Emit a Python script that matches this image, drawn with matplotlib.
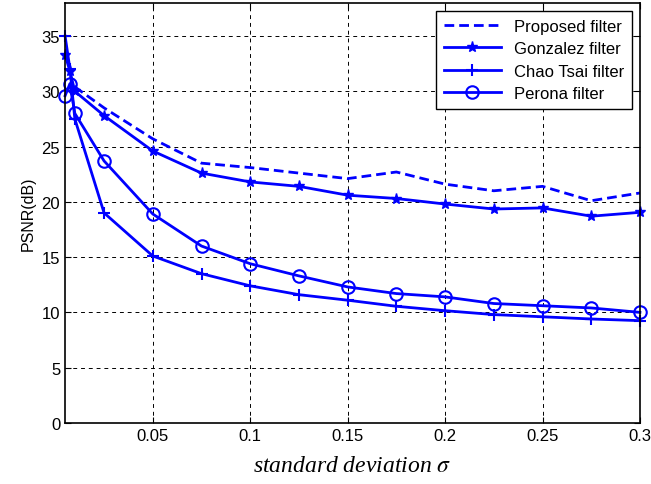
import numpy as np
import matplotlib.pyplot as plt

# 数据
sigma = [0.005, 0.0075, 0.01, 0.025, 0.05, 0.075, 0.1, 0.125, 0.15,
         0.175, 0.2, 0.225, 0.25, 0.275, 0.3]
proposed = [None, None, 30.4, 28.5, 25.7, 23.5, 23.1, 22.6, 22.1,
            22.7, 21.6, 21.0, 21.4, 20.1, 20.8]
gonzalez = [33.3, 31.8, 30.0, 27.8, 24.6, 22.6, 21.8, 21.4, 20.6,
            20.3, 19.8, 19.35, 19.45, 18.7, 19.05]
chao_tsai = [35.0, 32.0, 27.5, 19.0, 15.1, 13.5, 12.4, 11.6, 11.1,
             10.55, 10.15, 9.8, 9.6, 9.4, 9.25]
perona = [29.6, 30.7, 28.0, 23.7, 18.9, 16.0, 14.4, 13.3, 12.3,
          11.7, 11.4, 10.8, 10.6, 10.4, 10.0]
xticks = [0.05, 0.1, 0.15, 0.2, 0.25, 0.3]
yticks = [0, 5, 10, 15, 20, 25, 30, 35]

plt.rcParams['font.family'] = ['Liberation Sans', 'DejaVu Sans']
plt.rcParams['mathtext.fontset'] = 'stix'

fig = plt.figure(figsize=(6.51, 4.85), dpi=100)
ax = fig.add_axes([0.1, 0.126, 0.883, 0.866])

blue = (0, 0, 1)
xp = [x for x, y in zip(sigma, proposed) if y is not None]
yp = [y for y in proposed if y is not None]
ax.plot(xp, yp, color=blue, lw=2, ls=(0, (3.5, 1.8)), label='Proposed filter')
ax.plot(sigma, gonzalez, color=blue, lw=2, marker='*', ms=8,
        label='Gonzalez filter', clip_on=False)
ax.plot(sigma, chao_tsai, color=blue, lw=2, marker='+', ms=9, mew=1.5,
        label='Chao Tsai filter', clip_on=False)
ax.plot(sigma, perona, color=blue, lw=2, marker='o', ms=9, mfc='none', mew=1.5,
        label='Perona filter', clip_on=False)

ax.set_xlim(0.005, 0.3)
ax.set_ylim(0, 38)
ax.set_xticks(xticks)
ax.set_xticklabels(['0.05', '0.1', '0.15', '0.2', '0.25', '0.3'])
ax.set_yticks(yticks)
ax.tick_params(direction='in', top=True, right=True, labelsize=12, length=4)
ax.grid(True, color='black', ls=(0, (4, 4)), lw=0.7)
for s in ax.spines.values():
    s.set_linewidth(1.2)

ax.set_ylabel('PSNR(dB)', fontsize=11.5)
ax.set_xlabel('standard deviation $\\sigma$', fontsize=17, family='Liberation Serif',
              style='italic', labelpad=9)

leg = ax.legend(loc='upper right', fontsize=12, fancybox=False, edgecolor='black',
                framealpha=1, handlelength=3.4, borderaxespad=0.5, labelspacing=0.45,
                borderpad=0.45)
leg.get_frame().set_linewidth(1.0)

fig.savefig('out.png', dpi=100)
